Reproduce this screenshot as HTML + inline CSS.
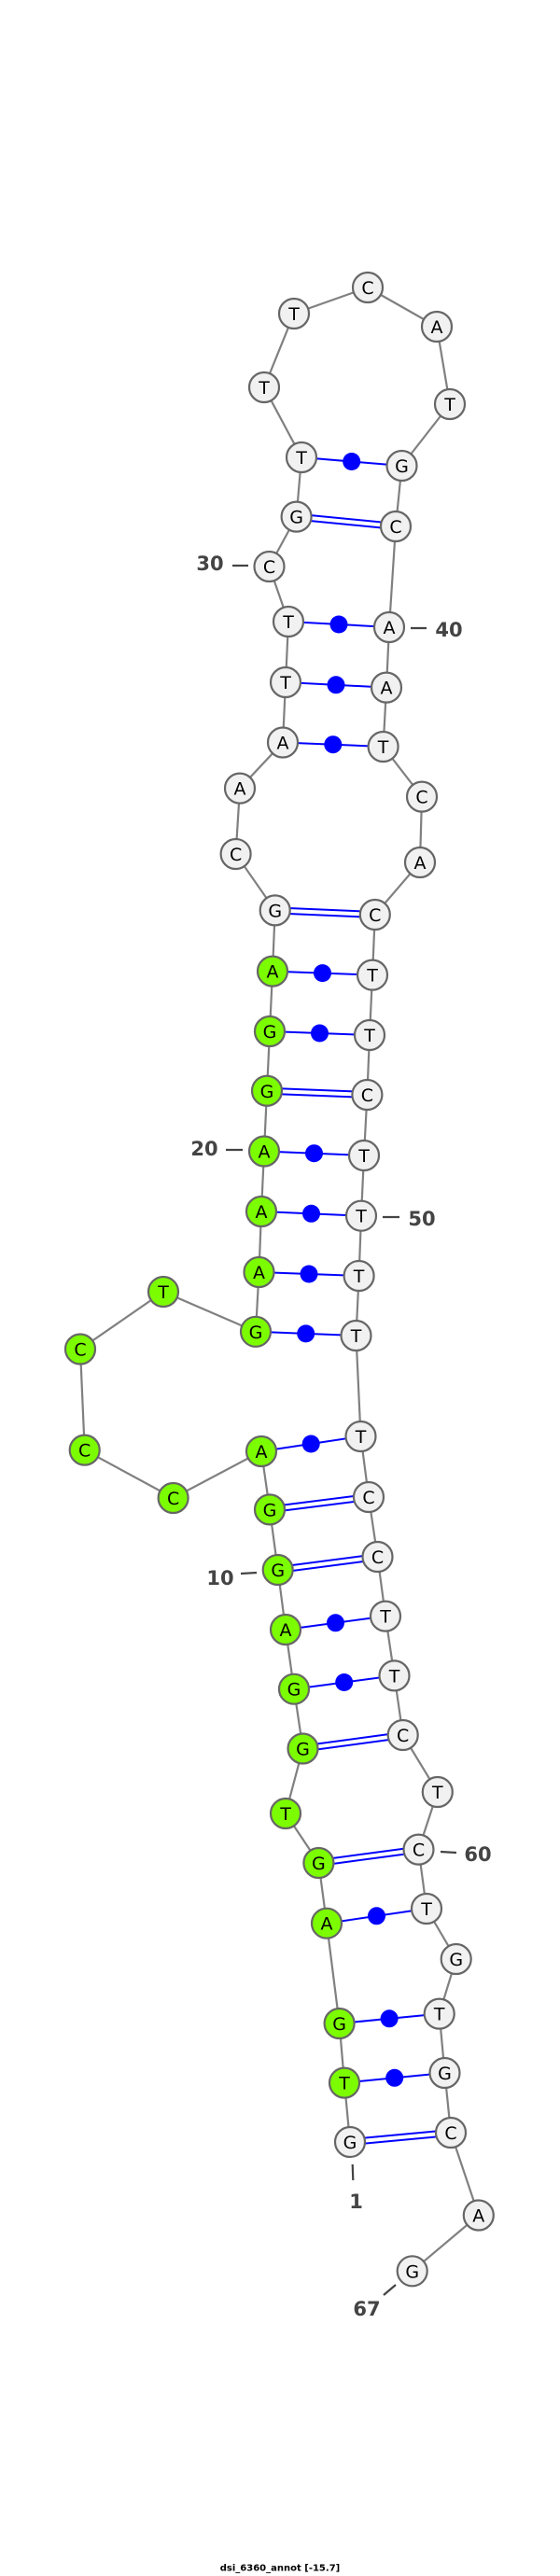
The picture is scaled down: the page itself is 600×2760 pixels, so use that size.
<!DOCTYPE html>
<html><head><meta charset="utf-8"><style>
html,body{margin:0;padding:0;background:#fff}
svg{display:block}
.n{stroke:#666;stroke-width:2.2}
.w{fill:#f1f1f1}.g{fill:#7cfc00}
.t{font-family:"DejaVu Sans","Liberation Sans",sans-serif;font-size:19px;fill:#000;text-anchor:middle;dominant-baseline:central}
.l{font-family:"DejaVu Sans","Liberation Sans",sans-serif;font-size:21px;font-weight:bold;fill:#444;text-anchor:middle;dominant-baseline:central}
.p{stroke:#0000ff;stroke-width:2}
</style></head><body>
<svg width="600" height="2760" viewBox="0 0 600 2760" xmlns="http://www.w3.org/2000/svg">
<polyline fill="none" stroke="#808080" stroke-width="2.2" points="375,2295 369,2231.6 363.6,2168 350,2060.7 341.4,1996 306,1943 324.5,1873.5 315,1809.7 306,1746 297.7,1682 289,1617.4 280,1555 185.6,1605 90.7,1553.6 86,1445.5 175,1384 274,1426.8 277.5,1363 280,1298 283,1233.5 286,1168.75 289,1105 292,1040.6 294.7,975.4 252.6,915 257,844.6 303,795.5 306,731 309,666 288.5,607 317.6,553.6 323,490 283,415 315,336 394,308 468,350 482,433 430.5,499 424,564 417,672 414,736.6 410.6,800 452,853.6 450,924 401.8,980 399,1044.6 396,1109 393.4,1173 390,1238 387,1302.7 384.6,1367 381.5,1431 386.5,1539 395,1604 404.5,1668 413,1731.6 422.5,1795.4 431.7,1859 468.8,1920 448.5,1981.6 457,2045 488.7,2099 470.7,2157.6 476.5,2221 483,2285 512.8,2373.5 441.7,2433.3"/>
<g class="p">
<!-- double (GC) -->
<line x1="375" y1="2292" x2="483" y2="2282"/><line x1="375" y1="2298" x2="483" y2="2288"/>
<line x1="341.4" y1="1993" x2="448.5" y2="1978.6"/><line x1="341.4" y1="1999" x2="448.5" y2="1984.6"/>
<line x1="324.5" y1="1870.5" x2="431.7" y2="1856"/><line x1="324.5" y1="1876.5" x2="431.7" y2="1862"/>
<line x1="297.7" y1="1679" x2="404.5" y2="1665"/><line x1="297.7" y1="1685" x2="404.5" y2="1671"/>
<line x1="289" y1="1614.4" x2="395" y2="1601"/><line x1="289" y1="1620.4" x2="395" y2="1607"/>
<line x1="286" y1="1165.75" x2="393.4" y2="1170"/><line x1="286" y1="1171.75" x2="393.4" y2="1176"/>
<line x1="294.7" y1="972.4" x2="401.8" y2="977"/><line x1="294.7" y1="978.4" x2="401.8" y2="983"/>
<line x1="317.6" y1="550.6" x2="424" y2="561"/><line x1="317.6" y1="556.6" x2="424" y2="567"/>
<!-- single with dot -->
<line x1="369" y1="2231.6" x2="476.5" y2="2221"/>
<line x1="363.6" y1="2168" x2="470.7" y2="2157.6"/>
<line x1="350" y1="2060.7" x2="457" y2="2045"/>
<line x1="315" y1="1809.7" x2="422.5" y2="1795.4"/>
<line x1="306" y1="1746" x2="413" y2="1731.6"/>
<line x1="280" y1="1555" x2="386.5" y2="1539"/>
<line x1="274" y1="1426.8" x2="381.5" y2="1431"/>
<line x1="277.5" y1="1363" x2="384.6" y2="1367"/>
<line x1="280" y1="1298" x2="387" y2="1302.7"/>
<line x1="283" y1="1233.5" x2="390" y2="1238"/>
<line x1="289" y1="1105" x2="396" y2="1109"/>
<line x1="292" y1="1040.6" x2="399" y2="1044.6"/>
<line x1="303" y1="795.5" x2="410.6" y2="800"/>
<line x1="306" y1="731" x2="414" y2="736.6"/>
<line x1="309" y1="666" x2="417" y2="672"/>
<line x1="323" y1="490" x2="430.5" y2="499"/>
</g>
<g fill="#0000ff">
<circle cx="422.7" cy="2226.3" r="9.5"/><circle cx="417.1" cy="2162.8" r="9.5"/><circle cx="403.5" cy="2052.8" r="9.5"/>
<circle cx="368.7" cy="1802.5" r="9.5"/><circle cx="359.5" cy="1738.8" r="9.5"/><circle cx="333.2" cy="1547" r="9.5"/>
<circle cx="327.7" cy="1428.9" r="9.5"/><circle cx="331" cy="1365" r="9.5"/><circle cx="333.5" cy="1300.3" r="9.5"/>
<circle cx="336.5" cy="1235.7" r="9.5"/><circle cx="342.5" cy="1107" r="9.5"/><circle cx="345.5" cy="1042.6" r="9.5"/>
<circle cx="356.8" cy="797.7" r="9.5"/><circle cx="360" cy="733.8" r="9.5"/><circle cx="363" cy="669" r="9.5"/>
<circle cx="376.7" cy="494.5" r="9.5"/>
</g>
<g stroke="#444" stroke-width="2.2">
<line x1="249" y1="606" x2="266" y2="606"/>
<line x1="440" y1="673" x2="457" y2="673"/>
<line x1="242" y1="1232" x2="260" y2="1232"/>
<line x1="410" y1="1304" x2="428" y2="1304"/>
<line x1="258" y1="1686" x2="275" y2="1685"/>
<line x1="472" y1="1984" x2="489" y2="1985"/>
<line x1="377.7" y1="2319" x2="378.3" y2="2336"/>
<line x1="411" y1="2459" x2="424" y2="2448"/>
</g>
<g class="l">
<text x="225" y="604">30</text><text x="481" y="675">40</text>
<text x="219" y="1231">20</text><text x="452" y="1306">50</text>
<text x="236" y="1691">10</text><text x="512" y="1987">60</text>
<text x="381.5" y="2359">1</text><text x="393" y="2474">67</text>
</g>
<g class="n">
<circle class="w" cx="375" cy="2295" r="16"/><circle class="g" cx="369" cy="2231.6" r="16"/><circle class="g" cx="363.6" cy="2168" r="16"/><circle class="g" cx="350" cy="2060.7" r="16"/><circle class="g" cx="341.4" cy="1996" r="16"/><circle class="g" cx="306" cy="1943" r="16"/><circle class="g" cx="324.5" cy="1873.5" r="16"/><circle class="g" cx="315" cy="1809.7" r="16"/><circle class="g" cx="306" cy="1746" r="16"/><circle class="g" cx="297.7" cy="1682" r="16"/><circle class="g" cx="289" cy="1617.4" r="16"/><circle class="g" cx="280" cy="1555" r="16"/><circle class="g" cx="185.6" cy="1605" r="16"/><circle class="g" cx="90.7" cy="1553.6" r="16"/><circle class="g" cx="86" cy="1445.5" r="16"/><circle class="g" cx="175" cy="1384" r="16"/><circle class="g" cx="274" cy="1426.8" r="16"/><circle class="g" cx="277.5" cy="1363" r="16"/><circle class="g" cx="280" cy="1298" r="16"/><circle class="g" cx="283" cy="1233.5" r="16"/><circle class="g" cx="286" cy="1168.75" r="16"/><circle class="g" cx="289" cy="1105" r="16"/><circle class="g" cx="292" cy="1040.6" r="16"/>
<circle class="w" cx="294.7" cy="975.4" r="16"/><circle class="w" cx="252.6" cy="915" r="16"/><circle class="w" cx="257" cy="844.6" r="16"/><circle class="w" cx="303" cy="795.5" r="16"/><circle class="w" cx="306" cy="731" r="16"/><circle class="w" cx="309" cy="666" r="16"/><circle class="w" cx="288.5" cy="607" r="16"/><circle class="w" cx="317.6" cy="553.6" r="16"/><circle class="w" cx="323" cy="490" r="16"/><circle class="w" cx="283" cy="415" r="16"/><circle class="w" cx="315" cy="336" r="16"/><circle class="w" cx="394" cy="308" r="16"/><circle class="w" cx="468" cy="350" r="16"/><circle class="w" cx="482" cy="433" r="16"/><circle class="w" cx="430.5" cy="499" r="16"/><circle class="w" cx="424" cy="564" r="16"/><circle class="w" cx="417" cy="672" r="16"/><circle class="w" cx="414" cy="736.6" r="16"/><circle class="w" cx="410.6" cy="800" r="16"/><circle class="w" cx="452" cy="853.6" r="16"/><circle class="w" cx="450" cy="924" r="16"/><circle class="w" cx="401.8" cy="980" r="16"/><circle class="w" cx="399" cy="1044.6" r="16"/><circle class="w" cx="396" cy="1109" r="16"/><circle class="w" cx="393.4" cy="1173" r="16"/><circle class="w" cx="390" cy="1238" r="16"/><circle class="w" cx="387" cy="1302.7" r="16"/><circle class="w" cx="384.6" cy="1367" r="16"/><circle class="w" cx="381.5" cy="1431" r="16"/><circle class="w" cx="386.5" cy="1539" r="16"/><circle class="w" cx="395" cy="1604" r="16"/><circle class="w" cx="404.5" cy="1668" r="16"/><circle class="w" cx="413" cy="1731.6" r="16"/><circle class="w" cx="422.5" cy="1795.4" r="16"/><circle class="w" cx="431.7" cy="1859" r="16"/><circle class="w" cx="468.8" cy="1920" r="16"/><circle class="w" cx="448.5" cy="1981.6" r="16"/><circle class="w" cx="457" cy="2045" r="16"/><circle class="w" cx="488.7" cy="2099" r="16"/><circle class="w" cx="470.7" cy="2157.6" r="16"/><circle class="w" cx="476.5" cy="2221" r="16"/><circle class="w" cx="483" cy="2285" r="16"/><circle class="w" cx="512.8" cy="2373.5" r="16"/><circle class="w" cx="441.7" cy="2433.3" r="16"/>
</g>
<g class="t">
<text x="375" y="2296">G</text><text x="369" y="2232.6">T</text><text x="363.6" y="2169">G</text><text x="350" y="2061.7">A</text><text x="341.4" y="1997">G</text><text x="306" y="1944">T</text><text x="324.5" y="1874.5">G</text><text x="315" y="1810.7">G</text><text x="306" y="1747">A</text><text x="297.7" y="1683">G</text><text x="289" y="1618.4">G</text><text x="280" y="1556">A</text><text x="185.6" y="1606">C</text><text x="90.7" y="1554.6">C</text><text x="86" y="1446.5">C</text><text x="175" y="1385">T</text><text x="274" y="1427.8">G</text><text x="277.5" y="1364">A</text><text x="280" y="1299">A</text><text x="283" y="1234.5">A</text><text x="286" y="1169.75">G</text><text x="289" y="1106">G</text><text x="292" y="1041.6">A</text>
<text x="294.7" y="976.4">G</text><text x="252.6" y="916">C</text><text x="257" y="845.6">A</text><text x="303" y="796.5">A</text><text x="306" y="732">T</text><text x="309" y="667">T</text><text x="288.5" y="608">C</text><text x="317.6" y="554.6">G</text><text x="323" y="491">T</text><text x="283" y="416">T</text><text x="315" y="337">T</text><text x="394" y="309">C</text><text x="468" y="351">A</text><text x="482" y="434">T</text><text x="430.5" y="500">G</text><text x="424" y="565">C</text><text x="417" y="673">A</text><text x="414" y="737.6">A</text><text x="410.6" y="801">T</text><text x="452" y="854.6">C</text><text x="450" y="925">A</text><text x="401.8" y="981">C</text><text x="399" y="1045.6">T</text><text x="396" y="1110">T</text><text x="393.4" y="1174">C</text><text x="390" y="1239">T</text><text x="387" y="1303.7">T</text><text x="384.6" y="1368">T</text><text x="381.5" y="1432">T</text><text x="386.5" y="1540">T</text><text x="395" y="1605">C</text><text x="404.5" y="1669">C</text><text x="413" y="1732.6">T</text><text x="422.5" y="1796.4">T</text><text x="431.7" y="1860">C</text><text x="468.8" y="1921">T</text><text x="448.5" y="1982.6">C</text><text x="457" y="2046">T</text><text x="488.7" y="2100">G</text><text x="470.7" y="2158.6">T</text><text x="476.5" y="2222">G</text><text x="483" y="2286">C</text><text x="512.8" y="2374.5">A</text><text x="441.7" y="2434.3">G</text>
</g>
<text x="300" y="2752" style="font-family:'DejaVu Sans','Liberation Sans',sans-serif;font-size:10px;font-weight:bold;fill:#000;text-anchor:middle;dominant-baseline:central">dsi_6360_annot [-15.7]</text>
</svg>
</body></html>
